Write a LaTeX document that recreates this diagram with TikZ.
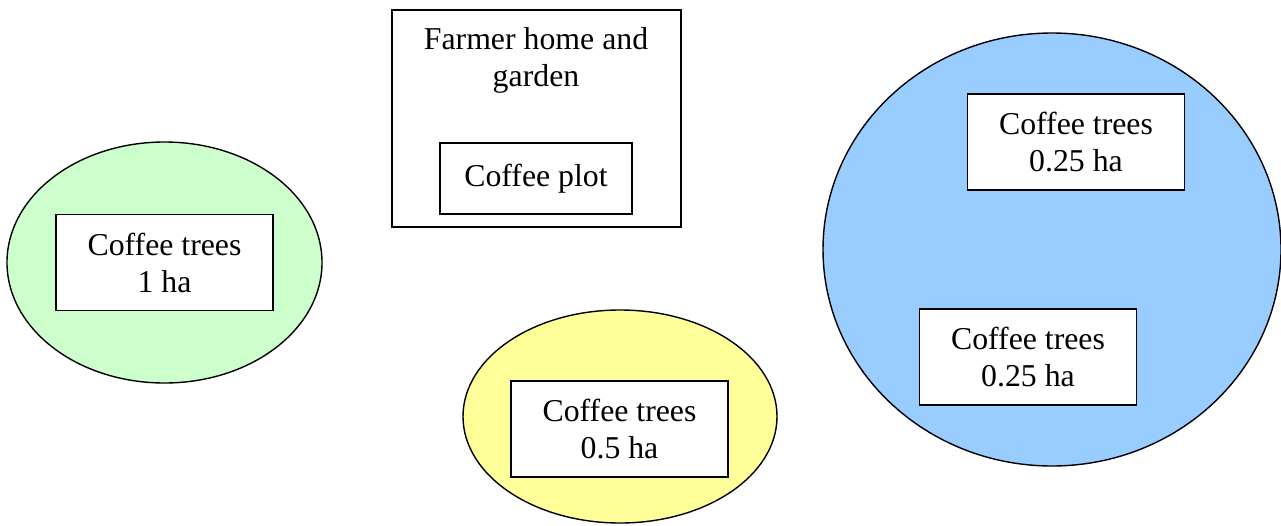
\documentclass[tikz,border=0pt]{standalone}
\usepackage{fontspec}
\setmainfont{Liberation Serif}
\usetikzlibrary{shapes.geometric}
\definecolor{fgreen}{HTML}{CCFFCC}
\definecolor{fyellow}{HTML}{FFFF99}
\definecolor{fblue}{HTML}{99CCFF}
\begin{document}
\begin{tikzpicture}[x=1pt,y=-1pt,
  lbl/.style={font=\fontsize{31.8}{37}\selectfont, align=center, inner sep=0pt},
  box/.style={lbl, draw, line width=1.5pt, fill=white, minimum width=217pt, minimum height=96pt},
  field/.style={ellipse, draw, line width=1.4pt, inner sep=0pt}]
\useasboundingbox (0,0) rectangle (1281,525);
% fields
\node[field, fill=fgreen, minimum width=315pt, minimum height=241pt] (green) at (164.5,262.5) {};
\node[field, fill=fyellow, minimum width=314pt, minimum height=213pt] (yellow) at (620,416.5) {};
\node[field, fill=fblue, minimum width=458pt, minimum height=433pt] (blue) at (1052,249.5) {};
% farmer home
\node[draw, line width=1.5pt, minimum width=289pt, minimum height=217pt, inner sep=0pt] (home) at (536.5,118.5) {};
\node[lbl] (hometext) at (536,60) {Farmer home and\\garden};
\node[box, minimum width=192pt, minimum height=71pt] (plot) at (536,178.5) {Coffee plot};
% coffee tree boxes
\node[box] (t1) at (164.5,262.5) {Coffee trees\\1 ha};
\node[box] (t2) at (619.5,429) {Coffee trees\\0.5 ha};
\node[box] (t3) at (1076,142) {Coffee trees\\0.25 ha};
\node[box] (t4) at (1028,357) {Coffee trees\\0.25 ha};
\end{tikzpicture}
\end{document}
